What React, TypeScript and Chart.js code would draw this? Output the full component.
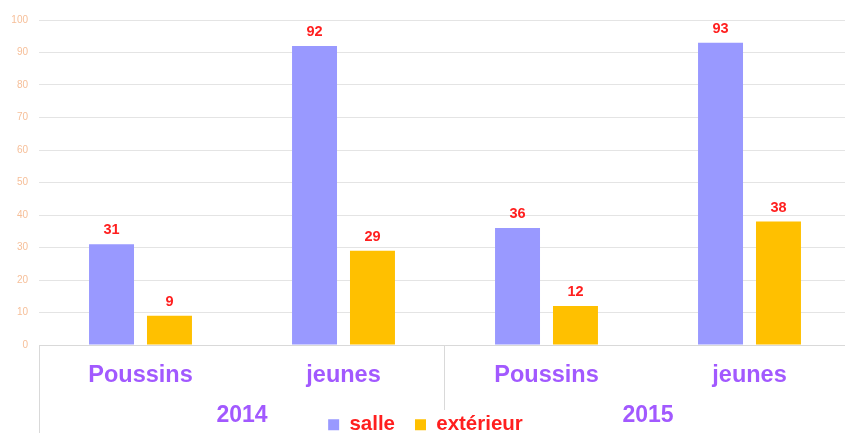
import React, { useEffect, useRef } from "react";
import { Chart, registerables } from "chart.js";

Chart.register(...registerables);

const categories = ["Poussins", "jeunes", "Poussins", "jeunes"];
const years = ["2014", "2015"];
const salle = [31, 92, 36, 93];
const exterieur = [9, 29, 12, 38];
const yTicks = [0, 10, 20, 30, 40, 50, 60, 70, 80, 90, 100];

const PURPLE_TEXT = "#a259ff";
const RED = "#ff1f1f";
const FONT = 'Arial, "Liberation Sans", sans-serif';

const valueLabels = {
  id: "valueLabels",
  afterDatasetsDraw(chart: any) {
    const ctx = chart.ctx;
    ctx.save();
    ctx.fillStyle = RED;
    ctx.font = `bold 14.5px ${FONT}`;
    ctx.textAlign = "center";
    ctx.textBaseline = "middle";
    chart.data.datasets.forEach((ds: any, di: number) => {
      const meta = chart.getDatasetMeta(di);
      meta.data.forEach((bar: any, i: number) => {
        ctx.fillText(String(ds.data[i]), bar.x, bar.y - 14);
      });
    });
    ctx.restore();
  },
};

const groupAxis = {
  id: "groupAxis",
  afterDraw(chart: any) {
    const ctx = chart.ctx;
    const x = chart.scales.x;
    const area = chart.chartArea;
    const catW = x.getPixelForValue(1) - x.getPixelForValue(0);
    ctx.save();
    ctx.strokeStyle = "#d9d9d9";
    ctx.lineWidth = 1;
    const left = Math.round(x.getPixelForValue(0) - catW / 2) + 0.5;
    ctx.beginPath();
    ctx.moveTo(left, area.bottom);
    ctx.lineTo(left, chart.height);
    ctx.stroke();
    for (let g = 1; g < years.length; g++) {
      const xx = Math.round(x.getPixelForValue(g * 2) - catW / 2) - 0.5;
      ctx.beginPath();
      ctx.moveTo(xx, area.bottom);
      ctx.lineTo(xx, area.bottom + 65);
      ctx.stroke();
    }
    ctx.fillStyle = PURPLE_TEXT;
    ctx.font = `bold 23px ${FONT}`;
    ctx.textAlign = "center";
    ctx.textBaseline = "middle";
    years.forEach((y, g) => {
      const cx = (x.getPixelForValue(g * 2) + x.getPixelForValue(g * 2 + 1)) / 2;
      ctx.fillText(y, cx, area.bottom + 71);
    });
    ctx.restore();
  },
};

export default function App() {
  const ref = useRef<HTMLCanvasElement>(null);

  useEffect(() => {
    if (!ref.current) return;
    const chart = new Chart(ref.current, {
      type: "bar",
      data: {
        labels: categories,
        datasets: [
          {
            label: "salle",
            data: salle,
            backgroundColor: "#9999ff",
            borderWidth: 0,
            categoryPercentage: 0.571,
            barPercentage: 0.776,
          },
          {
            label: "extérieur",
            data: exterieur,
            backgroundColor: "#ffc000",
            borderWidth: 0,
            categoryPercentage: 0.571,
            barPercentage: 0.776,
          },
        ],
      },
      options: {
        animation: false,
        responsive: true,
        maintainAspectRatio: false,
        layout: { padding: { top: 20, right: 0, left: 0, bottom: 0 } },
        plugins: {
          tooltip: { enabled: false },
          legend: {
            position: "bottom",
            labels: {
              color: RED,
              font: { family: FONT, size: 20.5, weight: "bold" },
              boxWidth: 11,
              boxHeight: 11,
              padding: 20,
            },
          },
        },
        scales: {
          x: {
            grid: { display: false },
            border: { display: true, color: "#d9d9d9" },
            ticks: {
              color: PURPLE_TEXT,
              font: { family: FONT, size: 23.5, weight: "bold" },
              padding: 8,
              maxRotation: 0,
              autoSkip: false,
            },
            afterFit(scale: any) {
              scale.height = 49.5;
            },
          },
          y: {
            min: 0,
            max: 100,
            afterBuildTicks(scale: any) {
              scale.ticks = yTicks.map((v) => ({ value: v }));
            },
            grid: { color: "#e4e4e4", drawTicks: false },
            border: { display: false },
            ticks: {
              color: "#f6bf99",
              font: { family: FONT, size: 10 },
              padding: 11,
            },
            afterFit(scale: any) {
              scale.width = 39;
            },
          },
        },
      },
      plugins: [valueLabels, groupAxis],
    });
    return () => chart.destroy();
  }, []);

  return (
    <div
      style={{
        position: "fixed",
        left: 0,
        top: 0,
        width: 845,
        height: 433,
        overflow: "hidden",
        background: "#fff",
      }}
    >
      <div style={{ position: "relative", width: 851, height: 445 }}>
        <canvas ref={ref} />
      </div>
    </div>
  );
}
